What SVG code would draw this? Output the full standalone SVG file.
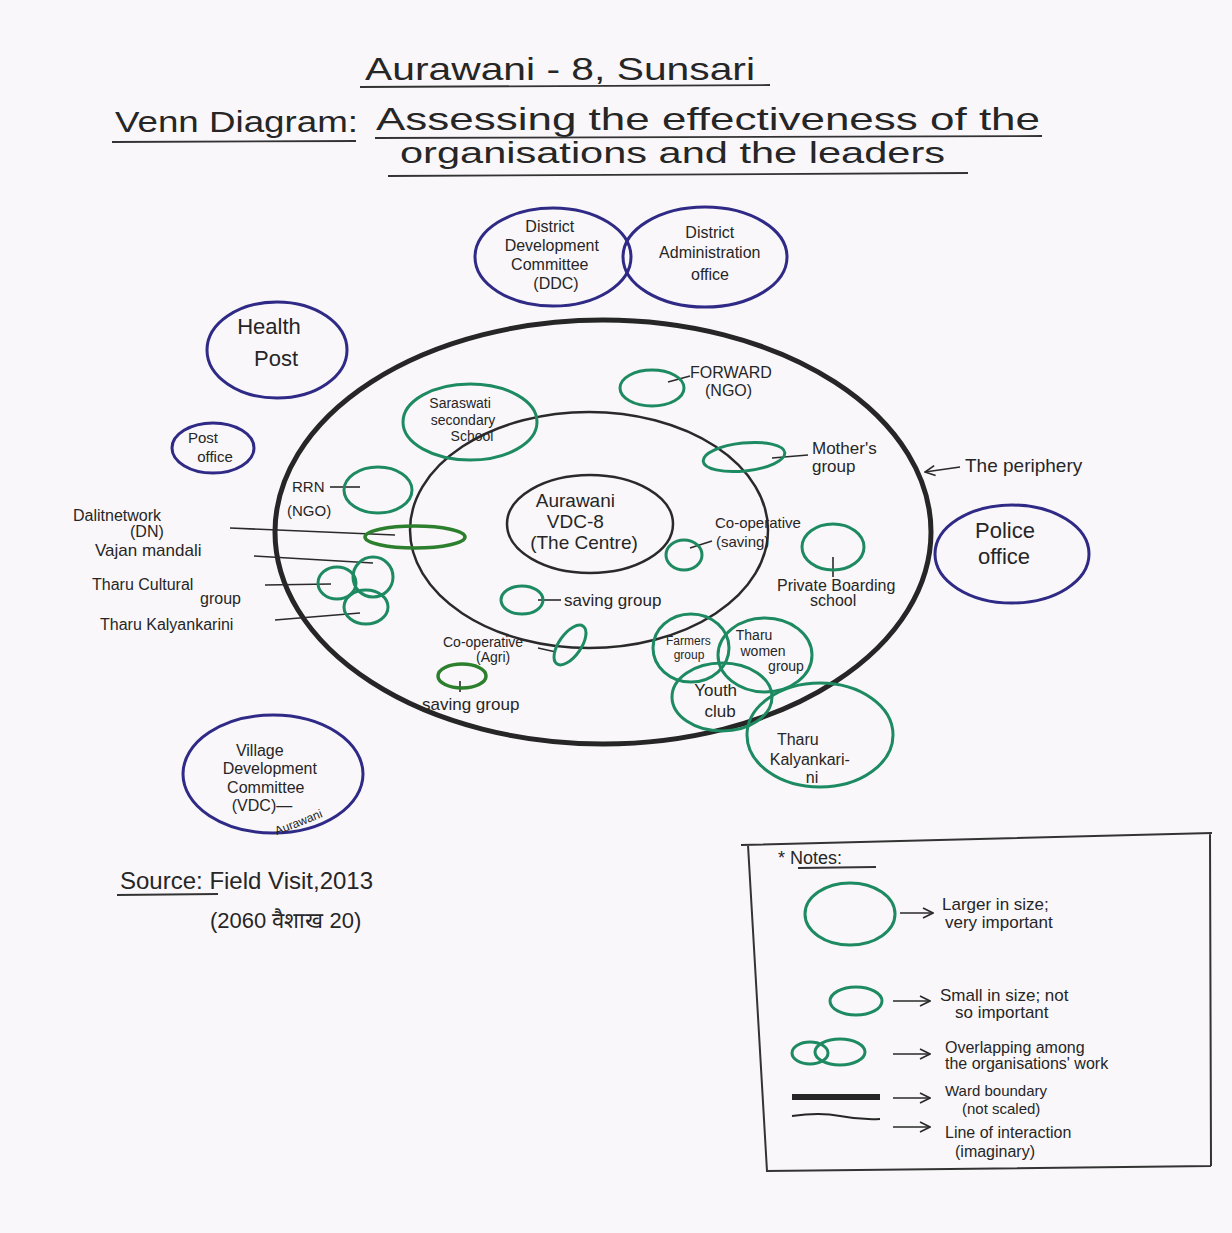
<svg xmlns="http://www.w3.org/2000/svg" width="1232" height="1233" viewBox="0 0 1232 1233">
  <defs>
    <style>
      .t { font-family: "Liberation Sans", "DejaVu Sans", sans-serif; fill: #262626; }
      .blue { fill: none; stroke: #2e2a86; stroke-width: 3; }
      .green { fill: none; stroke: #1d8a62; stroke-width: 3; }
      .dgreen { fill: none; stroke: #2c7f2c; stroke-width: 3.5; }
      .ward { fill: none; stroke: #262626; stroke-width: 5; }
      .inner { fill: none; stroke: #2a2a2a; stroke-width: 2.5; }
      .centre { fill: none; stroke: #2a2a2a; stroke-width: 2.5; }
      .lead { fill: none; stroke: #2a2a2a; stroke-width: 1.6; }
      .rule { fill: none; stroke: #333; stroke-width: 1.8; }
    </style>
    <marker id="open" viewBox="0 0 12 12" refX="11" refY="6" markerWidth="12" markerHeight="12" markerUnits="userSpaceOnUse" orient="auto">
      <path d="M1,1 L11,6 L1,11" fill="none" stroke="#2a2a2a" stroke-width="1.6"/>
    </marker>
  </defs>

  <!-- paper -->
  <rect x="0" y="0" width="1232" height="1233" fill="#faf7fa"/>

  <!-- heading -->
  <g id="heading">
    <text class="t" x="560" y="80" font-size="32" text-anchor="middle" textLength="390" lengthAdjust="spacingAndGlyphs">Aurawani - 8, Sunsari</text>
    <line class="rule" x1="360" y1="87" x2="770" y2="85"/>
    <text class="t" x="115" y="132" font-size="30" textLength="243" lengthAdjust="spacingAndGlyphs">Venn Diagram:</text>
    <line class="rule" x1="112" y1="142" x2="356" y2="141"/>
    <text class="t" x="376" y="130" font-size="32" textLength="664" lengthAdjust="spacingAndGlyphs">Assessing the effectiveness of the</text>
    <line class="rule" x1="375" y1="138" x2="1042" y2="136"/>
    <text class="t" x="400" y="163" font-size="30" textLength="545" lengthAdjust="spacingAndGlyphs">organisations and the leaders</text>
    <line class="rule" x1="388" y1="176" x2="968" y2="173"/>
  </g>

  <!-- ward boundary and inner zone -->
  <g id="ward-boundary">
    <ellipse class="ward" cx="603" cy="532" rx="328" ry="212"/>
  </g>
  <g id="inner-zone">
    <ellipse class="inner" cx="589" cy="530" rx="179" ry="118"/>
  </g>

  <!-- connectors / leader lines -->
  <g id="connectors">
    <path class="lead" d="M668,382 L690,376"/>
    <path class="lead" d="M772,458 L808,455"/>
    <path class="lead" d="M690,548 L712,541"/>
    <path class="lead" d="M833,557 L833,577"/>
    <path class="lead" d="M538,600 L561,600"/>
    <path class="lead" d="M330,487 L360,487"/>
    <path class="lead" d="M230,528 L395,535"/>
    <path class="lead" d="M254,556 L373,563"/>
    <path class="lead" d="M265,585 L331,584"/>
    <path class="lead" d="M275,620 L360,613"/>
    <path class="lead" d="M538,648 L556,652"/>
    <path class="lead" d="M460,681 L460,692"/>
    <path class="lead" d="M960,467 L925,472" marker-end="url(#open)"/>
  </g>

  <!-- outside organisations -->
  <g id="ddc">
    <ellipse class="blue" cx="553" cy="257" rx="78" ry="49"/>
    <text class="t" font-size="16" text-anchor="middle">
      <tspan x="552" y="232">District</tspan>
      <tspan x="554" y="251">Development</tspan>
      <tspan x="552" y="270">Committee</tspan>
      <tspan x="556" y="289">(DDC)</tspan>
    </text>
  </g>
  <g id="district-admin">
    <ellipse class="blue" cx="705" cy="257" rx="82" ry="50"/>
    <text class="t" font-size="16" text-anchor="middle">
      <tspan x="712" y="238">District</tspan>
      <tspan x="712" y="258">Administration</tspan>
      <tspan x="710" y="280">office</tspan>
    </text>
  </g>
  <g id="health-post">
    <ellipse class="blue" cx="277" cy="350" rx="70" ry="48"/>
    <text class="t" font-size="22" text-anchor="middle">
      <tspan x="272" y="334">Health</tspan>
      <tspan x="276" y="366">Post</tspan>
    </text>
  </g>
  <g id="post-office">
    <ellipse class="blue" cx="213" cy="448" rx="41" ry="25"/>
    <text class="t" font-size="15" text-anchor="middle">
      <tspan x="205" y="443">Post</tspan>
      <tspan x="215" y="462">office</tspan>
    </text>
  </g>
  <g id="police-office">
    <ellipse class="blue" cx="1012" cy="554" rx="77" ry="49"/>
    <text class="t" font-size="22" text-anchor="middle">
      <tspan x="1008" y="538">Police</tspan>
      <tspan x="1004" y="564">office</tspan>
    </text>
  </g>
  <g id="vdc">
    <ellipse class="blue" cx="273" cy="774" rx="90" ry="59"/>
    <text class="t" font-size="16" text-anchor="middle">
      <tspan x="262" y="756">Village</tspan>
      <tspan x="272" y="774">Development</tspan>
      <tspan x="268" y="793">Committee</tspan>
      <tspan x="262" y="811">(VDC)—</tspan>
    </text>
    <text class="t" font-size="12" x="300" y="826" text-anchor="middle" transform="rotate(-22 300 826)">Aurawani</text>
  </g>

  <!-- periphery label -->
  <g id="periphery-label">
    <text class="t" x="965" y="472" font-size="19">The periphery</text>
  </g>

  <!-- centre -->
  <g id="centre">
    <ellipse class="centre" cx="590" cy="524" rx="83" ry="49"/>
    <text class="t" font-size="19" text-anchor="middle">
      <tspan x="578" y="507">Aurawani</tspan>
      <tspan x="578" y="528">VDC-8</tspan>
      <tspan x="584" y="549">(The Centre)</tspan>
    </text>
  </g>

  <!-- organisations inside the ward -->
  <g id="saraswati-school">
    <ellipse class="green" cx="470" cy="422" rx="67" ry="38"/>
    <text class="t" font-size="14" text-anchor="middle">
      <tspan x="462" y="408">Saraswati</tspan>
      <tspan x="465" y="425">secondary</tspan>
      <tspan x="472" y="441">School</tspan>
    </text>
  </g>
  <g id="forward-ngo">
    <ellipse class="green" cx="652" cy="388" rx="32" ry="18"/>
    <text class="t" font-size="16">
      <tspan x="690" y="378">FORWARD</tspan>
      <tspan x="705" y="396">(NGO)</tspan>
    </text>
  </g>
  <g id="mothers-group">
    <ellipse class="green" cx="744" cy="457" rx="41" ry="14" transform="rotate(-6 744 457)"/>
    <text class="t" font-size="17">
      <tspan x="812" y="454">Mother's</tspan>
      <tspan x="812" y="472">group</tspan>
    </text>
  </g>
  <g id="cooperative-saving">
    <ellipse class="green" cx="684" cy="555" rx="18" ry="15"/>
    <text class="t" font-size="15">
      <tspan x="715" y="528">Co-operative</tspan>
      <tspan x="716" y="547">(saving)</tspan>
    </text>
  </g>
  <g id="private-boarding-school">
    <ellipse class="green" cx="833" cy="547" rx="31" ry="23"/>
    <text class="t" font-size="16">
      <tspan x="777" y="591">Private Boarding</tspan>
      <tspan x="810" y="606">school</tspan>
    </text>
  </g>
  <g id="saving-group-inner">
    <ellipse class="green" cx="522" cy="600" rx="21" ry="14"/>
    <text class="t" x="564" y="606" font-size="17">saving group</text>
  </g>
  <g id="rrn-ngo">
    <ellipse class="green" cx="378" cy="490" rx="34" ry="23"/>
    <text class="t" font-size="15">
      <tspan x="292" y="492">RRN</tspan>
      <tspan x="287" y="516">(NGO)</tspan>
    </text>
  </g>
  <g id="dalit-network">
    <ellipse class="dgreen" cx="415" cy="537" rx="50" ry="11"/>
    <text class="t" font-size="16">
      <tspan x="73" y="521">Dalitnetwork</tspan>
      <tspan x="130" y="537">(DN)</tspan>
    </text>
  </g>
  <g id="vajan-mandali">
    <ellipse class="green" cx="373" cy="577" rx="20" ry="20"/>
    <text class="t" x="95" y="556" font-size="17">Vajan mandali</text>
  </g>
  <g id="tharu-cultural-group">
    <ellipse class="green" cx="337" cy="583" rx="19" ry="16"/>
    <text class="t" font-size="16">
      <tspan x="92" y="590">Tharu Cultural</tspan>
      <tspan x="200" y="604">group</tspan>
    </text>
  </g>
  <g id="tharu-kalyankarini-left">
    <ellipse class="green" cx="366" cy="607" rx="22" ry="17"/>
    <text class="t" x="100" y="630" font-size="16">Tharu Kalyankarini</text>
  </g>
  <g id="cooperative-agri">
    <ellipse class="green" cx="570" cy="645" rx="23" ry="11" transform="rotate(-55 570 645)"/>
    <text class="t" font-size="14">
      <tspan x="443" y="647">Co-operative</tspan>
      <tspan x="476" y="662">(Agri)</tspan>
    </text>
  </g>
  <g id="saving-group-outer">
    <ellipse class="dgreen" cx="462" cy="676" rx="24" ry="12"/>
    <text class="t" x="422" y="710" font-size="17">saving group</text>
  </g>
  <g id="farmers-group">
    <ellipse class="green" cx="691" cy="648" rx="38" ry="34"/>
    <text class="t" font-size="12" text-anchor="middle">
      <tspan x="690" y="645">Farmers</tspan>
      <tspan x="689" y="659">group</tspan>
    </text>
  </g>
  <g id="tharu-women-group">
    <ellipse class="green" cx="765" cy="655" rx="47" ry="37"/>
    <text class="t" font-size="14" text-anchor="middle">
      <tspan x="756" y="640">Tharu</tspan>
      <tspan x="765" y="656">women</tspan>
      <tspan x="786" y="671">group</tspan>
    </text>
  </g>
  <g id="youth-club">
    <ellipse class="green" cx="722" cy="697" rx="50" ry="34"/>
    <text class="t" font-size="17" text-anchor="middle">
      <tspan x="718" y="696">Youth</tspan>
      <tspan x="720" y="717">club</tspan>
    </text>
  </g>
  <g id="tharu-kalyankarini-right">
    <ellipse class="green" cx="820" cy="735" rx="73" ry="52"/>
    <text class="t" font-size="16" text-anchor="middle">
      <tspan x="800" y="745">Tharu</tspan>
      <tspan x="812" y="765">Kalyankari-</tspan>
      <tspan x="812" y="783">ni</tspan>
    </text>
  </g>

  <!-- source -->
  <g id="source">
    <text class="t" x="120" y="889" font-size="24">Source: Field Visit,2013</text>
    <line class="rule" x1="117" y1="895" x2="218" y2="894"/>
    <text class="t" x="210" y="928" font-size="22">(2060 वैशाख 20)</text>
  </g>

  <!-- notes / key -->
  <g id="notes">
    <path d="M741,845 L1212,833 M748,845 L767,1171 L1211,1166 M1210,833 L1211,1166" fill="none" stroke="#333" stroke-width="2"/>
    <text class="t" x="778" y="864" font-size="18">* Notes:</text>
    <line class="rule" x1="798" y1="868" x2="876" y2="867"/>

    <ellipse class="green" cx="850" cy="914" rx="45" ry="31"/>
    <line class="lead" x1="900" y1="913" x2="933" y2="913" marker-end="url(#open)"/>
    <text class="t" font-size="17">
      <tspan x="942" y="910">Larger in size;</tspan>
      <tspan x="945" y="928">very important</tspan>
    </text>

    <ellipse class="green" cx="856" cy="1001" rx="26" ry="14"/>
    <line class="lead" x1="893" y1="1001" x2="930" y2="1001" marker-end="url(#open)"/>
    <text class="t" font-size="17">
      <tspan x="940" y="1001">Small in size; not</tspan>
      <tspan x="955" y="1018">so important</tspan>
    </text>

    <ellipse class="green" cx="810" cy="1053" rx="18" ry="11"/>
    <ellipse class="green" cx="840" cy="1052" rx="25" ry="13"/>
    <line class="lead" x1="893" y1="1054" x2="930" y2="1054" marker-end="url(#open)"/>
    <text class="t" font-size="16">
      <tspan x="945" y="1053">Overlapping among</tspan>
      <tspan x="945" y="1069">the organisations' work</tspan>
    </text>

    <line x1="792" y1="1097" x2="880" y2="1097" stroke="#262626" stroke-width="6"/>
    <line class="lead" x1="893" y1="1098" x2="930" y2="1098" marker-end="url(#open)"/>
    <text class="t" font-size="15">
      <tspan x="945" y="1096">Ward boundary</tspan>
      <tspan x="962" y="1114">(not scaled)</tspan>
    </text>

    <path d="M792,1116 Q820,1112 840,1116 T880,1119" fill="none" stroke="#262626" stroke-width="2"/>
    <line class="lead" x1="893" y1="1127" x2="930" y2="1127" marker-end="url(#open)"/>
    <text class="t" font-size="16">
      <tspan x="945" y="1138">Line of interaction</tspan>
      <tspan x="955" y="1157">(imaginary)</tspan>
    </text>
  </g>
</svg>
